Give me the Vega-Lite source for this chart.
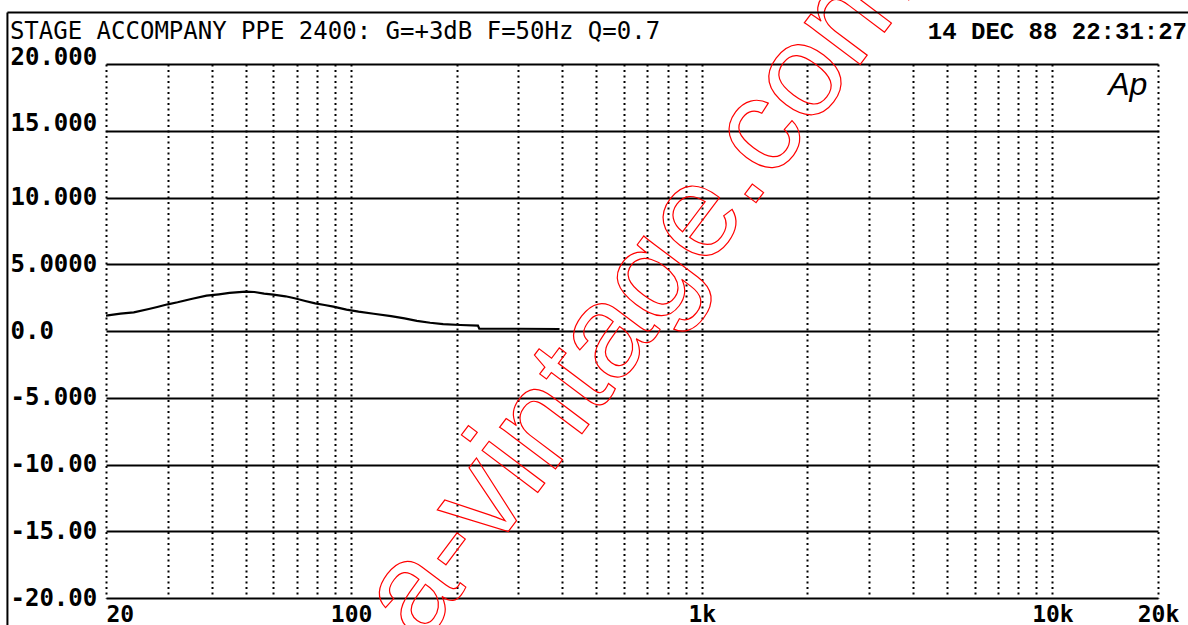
{
  "$schema": "https://vega.github.io/schema/vega-lite/v6.json",
  "autosize": "none",
  "width": 1052,
  "height": 534,
  "padding": {"left": 106, "top": 64, "right": 30, "bottom": 27},
  "background": "white",
  "config": {"view": {"stroke": null}},
  "layer": [
    {
      "data": {"values": [
        {"f": 20, "db": 1.15}, {"f": 22, "db": 1.3}, {"f": 24, "db": 1.4}, {"f": 26.5, "db": 1.65},
        {"f": 28, "db": 1.8}, {"f": 30, "db": 2.0}, {"f": 32, "db": 2.15}, {"f": 35, "db": 2.4},
        {"f": 38.7, "db": 2.65}, {"f": 42, "db": 2.75}, {"f": 45, "db": 2.85}, {"f": 50, "db": 2.95},
        {"f": 53, "db": 2.92}, {"f": 56.5, "db": 2.8}, {"f": 60, "db": 2.72}, {"f": 65, "db": 2.6},
        {"f": 69, "db": 2.45}, {"f": 74, "db": 2.25}, {"f": 79, "db": 2.07}, {"f": 84, "db": 1.95},
        {"f": 89, "db": 1.83}, {"f": 97, "db": 1.6}, {"f": 105, "db": 1.45}, {"f": 116, "db": 1.29},
        {"f": 130, "db": 1.12}, {"f": 142, "db": 0.95}, {"f": 154, "db": 0.76}, {"f": 168, "db": 0.62},
        {"f": 183, "db": 0.52}, {"f": 205, "db": 0.45}, {"f": 230, "db": 0.4}, {"f": 232, "db": 0.17},
        {"f": 300, "db": 0.17}, {"f": 393, "db": 0.15}
      ]},
      "mark": {"type": "line", "color": "black", "strokeWidth": 2.2},
      "encoding": {
        "x": {
          "field": "f", "type": "quantitative",
          "scale": {"type": "log", "domain": [20, 20000], "nice": false},
          "axis": {
            "title": null,
            "values": [20, 30, 40, 50, 60, 70, 80, 90, 100, 200, 300, 400, 500, 600, 700, 800, 900, 1000, 2000, 3000, 4000, 5000, 6000, 7000, 8000, 9000, 10000, 20000],
            "labelExpr": "datum.value == 20 ? '20' : datum.value == 100 ? '100' : datum.value == 1000 ? '1k' : datum.value == 10000 ? '10k' : datum.value == 20000 ? '20k' : ''",
            "domain": false, "ticks": false, "tickSize": 0,
            "grid": true, "gridColor": "black", "gridWidth": 2, "gridDash": [2, 3.5], "gridOpacity": 1,
            "labelFont": "DejaVu Sans Mono", "labelFontSize": 23, "labelFontWeight": "bold", "labelColor": "black",
            "labelPadding": 23, "labelBaseline": "alphabetic",
            "labelAlign": {"condition": {"test": "datum.value == 20", "value": "left"}, "value": "center"},
            "labelOverlap": false, "labelBound": false, "labelFlush": false
          }
        },
        "y": {
          "field": "db", "type": "quantitative",
          "scale": {"domain": [-20, 20], "nice": false, "zero": false},
          "axis": {
            "title": null,
            "values": [-20, -15, -10, -5, 0, 5, 10, 15, 20],
            "labelExpr": "datum.value == 20 ? '20.000' : datum.value == 15 ? '15.000' : datum.value == 10 ? '10.000' : datum.value == 5 ? '5.0000' : datum.value == 0 ? '0.0' : datum.value == -5 ? '-5.000' : datum.value == -10 ? '-10.00' : datum.value == -15 ? '-15.00' : '-20.00'",
            "domain": false, "ticks": false, "tickSize": 0,
            "grid": true, "gridColor": "black", "gridWidth": 2.2, "gridOpacity": 1,
            "labelFont": "DejaVu Sans Mono", "labelFontSize": 24, "labelFontWeight": "bold", "labelColor": "black",
            "labelAlign": "left", "labelPadding": 96,
            "labelBaseline": {"condition": {"test": "datum.value >= 15", "value": "alphabetic"}, "value": "middle"},
            "labelOverlap": false, "labelBound": false, "labelFlush": false
          }
        }
      }
    },
    {
      "data": {"values": [{"label": "STAGE ACCOMPANY PPE 2400: G=+3dB F=50Hz Q=0.7"}]},
      "mark": {"type": "text", "align": "left", "baseline": "alphabetic", "font": "DejaVu Sans Mono", "fontSize": 24, "color": "black"},
      "encoding": {"x": {"datum": 10.64}, "y": {"datum": 21.85}, "text": {"field": "label"}}
    },
    {
      "data": {"values": [{"label": "14 DEC 88 22:31:27"}]},
      "mark": {"type": "text", "align": "right", "baseline": "alphabetic", "font": "Liberation Mono", "fontSize": 24, "fontWeight": "bold", "color": "black"},
      "encoding": {"x": {"datum": 24200}, "y": {"datum": 21.85}, "text": {"field": "label"}}
    },
    {
      "data": {"values": [{"label": "Ap"}]},
      "mark": {"type": "text", "align": "center", "baseline": "alphabetic", "font": "Liberation Sans", "fontSize": 32, "fontStyle": "italic", "color": "black"},
      "encoding": {"x": {"datum": 16400}, "y": {"datum": 17.68}, "text": {"field": "label"}}
    },
    {
      "data": {"values": [{"label": "a-vintage.com"}]},
      "mark": {"type": "text", "align": "center", "baseline": "alphabetic", "font": "Liberation Sans", "fontSize": 132, "angle": -53, "fill": "transparent", "stroke": "#ff0000", "strokeWidth": 1.2},
      "encoding": {"x": {"datum": 820}, "y": {"datum": 1.2}, "text": {"field": "label"}}
    },
    {
      "data": {"values": [{}]},
      "mark": {"type": "rule", "color": "black", "strokeWidth": 2},
      "encoding": {"x": {"datum": 10.47}, "x2": {"datum": 24400}, "y": {"datum": 23.86}}
    },
    {
      "data": {"values": [{}]},
      "mark": {"type": "rule", "color": "black", "strokeWidth": 2},
      "encoding": {"x": {"datum": 10.47}, "y": {"datum": 23.86}, "y2": {"datum": -22.3}}
    }
  ]
}
